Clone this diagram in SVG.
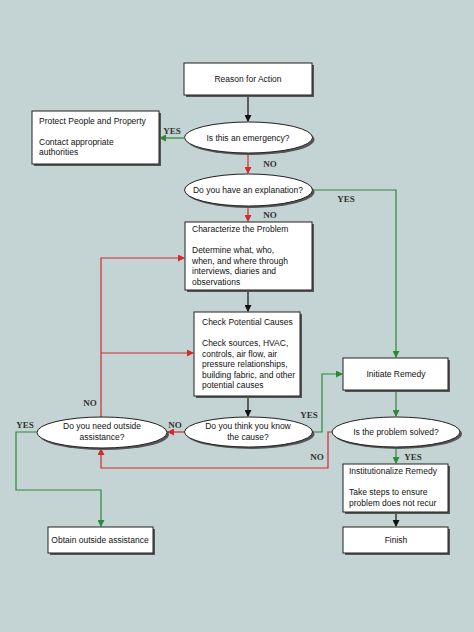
<svg xmlns="http://www.w3.org/2000/svg" width="474" height="632" viewBox="0 0 474 632">
<defs>
<marker id="ak" markerWidth="7" markerHeight="7" refX="6" refY="3.5" orient="auto" markerUnits="userSpaceOnUse"><path d="M0,0 L7,3.5 L0,7 Z" fill="#111"/></marker>
<marker id="ar" markerWidth="7" markerHeight="7" refX="6" refY="3.5" orient="auto" markerUnits="userSpaceOnUse"><path d="M0,0 L7,3.5 L0,7 Z" fill="#d42a2a"/></marker>
<marker id="ag" markerWidth="7" markerHeight="7" refX="6" refY="3.5" orient="auto" markerUnits="userSpaceOnUse"><path d="M0,0 L7,3.5 L0,7 Z" fill="#2a8a3a"/></marker>
</defs>
<style>
.box{fill:#fff;stroke:#222;stroke-width:1}
.sh{fill:#555}
.t{font-family:"Liberation Sans",Arial,sans-serif;font-size:8.5px;fill:#111}
.c{text-anchor:middle}
.lb{font-family:"Liberation Serif","Times New Roman",serif;font-size:9px;font-weight:bold;fill:#333;text-anchor:middle}
.k{fill:none;stroke:#111;stroke-width:1.2}
.r{fill:none;stroke:#d42a2a;stroke-width:1.2}
.g{fill:none;stroke:#2a8a3a;stroke-width:1.2}
</style>
<rect width="474" height="632" fill="#c4d3d3"/>
<g id="connectors">
<path class="k" d="M248,95 V121" marker-end="url(#ak)"/>
<path class="g" d="M184,138 H160" marker-end="url(#ag)"/>
<path class="r" d="M248,153 V173" marker-end="url(#ar)"/>
<path class="g" d="M313,190 H396 V357" marker-end="url(#ag)"/>
<path class="r" d="M248,206 V221" marker-end="url(#ar)"/>
<path class="k" d="M248,290 V311" marker-end="url(#ak)"/>
<path class="k" d="M248,396 V416" marker-end="url(#ak)"/>
<path class="r" d="M184,432 H168" marker-end="url(#ar)"/>
<path class="r" d="M101,417 V258 H184" marker-end="url(#ar)"/>
<path class="r" d="M101,353 H193" marker-end="url(#ar)"/>
<path class="g" d="M37,432 H16 V490 H101 V526" marker-end="url(#ag)"/>
<path class="g" d="M313,432 H322 V374 H342" marker-end="url(#ag)"/>
<path class="g" d="M396,390 V416" marker-end="url(#ag)"/>
<path class="r" d="M332,432 H328 V468 H101 V449" marker-end="url(#ar)"/>
<path class="g" d="M396,447 V463" marker-end="url(#ag)"/>
<path class="k" d="M396,512 V526" marker-end="url(#ak)"/>
</g>
<g id="labels">
<text class="lb" x="172" y="134">YES</text>
<text class="lb" x="270" y="167">NO</text>
<text class="lb" x="346" y="202">YES</text>
<text class="lb" x="270" y="218">NO</text>
<text class="lb" x="90" y="406">NO</text>
<text class="lb" x="25" y="428">YES</text>
<text class="lb" x="175" y="428">NO</text>
<text class="lb" x="309" y="418">YES</text>
<text class="lb" x="317" y="460">NO</text>
<text class="lb" x="413" y="460">YES</text>
</g>
<g id="reason">
<rect class="sh" x="186" y="65" width="128" height="32"/>
<rect class="box" x="184" y="63" width="128" height="32"/>
<text class="t c" x="248" y="82">Reason for Action</text>
</g>
<g id="protect">
<rect class="sh" x="34" y="113" width="127" height="53"/>
<rect class="box" x="32" y="111" width="127" height="53"/>
<text class="t" x="39" y="124">Protect People and Property</text>
<text class="t" x="39" y="145">Contact appropriate</text>
<text class="t" x="39" y="155">authorities</text>
</g>
<g id="emergency">
<ellipse class="sh" cx="250.5" cy="139.5" rx="64" ry="15.5"/>
<ellipse class="box" cx="248.5" cy="137.5" rx="64" ry="15.5"/>
<text class="t c" x="248" y="141">Is this an emergency?</text>
</g>
<g id="explanation">
<ellipse class="sh" cx="250.5" cy="192" rx="64" ry="16"/>
<ellipse class="box" cx="248.5" cy="190" rx="64" ry="16"/>
<text class="t c" x="248" y="193">Do you have an explanation?</text>
</g>
<g id="characterize">
<rect class="sh" x="187" y="224" width="127" height="68"/>
<rect class="box" x="185" y="222" width="127" height="68"/>
<text class="t" x="192" y="232">Characterize the Problem</text>
<text class="t" x="192" y="253">Determine what, who,</text>
<text class="t" x="192" y="263.5">when, and where through</text>
<text class="t" x="192" y="274">interviews, diaries and</text>
<text class="t" x="192" y="284.5">observations</text>
</g>
<g id="check">
<rect class="sh" x="196" y="314" width="106" height="84"/>
<rect class="box" x="194" y="312" width="106" height="84"/>
<text class="t" x="202" y="325">Check Potential Causes</text>
<text class="t" x="202" y="346">Check sources, HVAC,</text>
<text class="t" x="202" y="356.5">controls, air flow, air</text>
<text class="t" x="202" y="367">pressure relationships,</text>
<text class="t" x="202" y="377.5">building fabric, and other</text>
<text class="t" x="202" y="388">potential causes</text>
</g>
<g id="initiate">
<rect class="sh" x="345" y="360" width="105" height="32"/>
<rect class="box" x="343" y="358" width="105" height="32"/>
<text class="t c" x="396" y="377">Initiate Remedy</text>
</g>
<g id="think">
<ellipse class="sh" cx="250.5" cy="434" rx="64" ry="15"/>
<ellipse class="box" cx="248.5" cy="432" rx="64" ry="15"/>
<text class="t c" x="248" y="429">Do you think you know</text>
<text class="t c" x="248" y="440">the cause?</text>
</g>
<g id="outside">
<ellipse class="sh" cx="104" cy="434.5" rx="65" ry="15.5"/>
<ellipse class="box" cx="102" cy="432.5" rx="65" ry="15.5"/>
<text class="t c" x="102" y="429">Do you need outside</text>
<text class="t c" x="102" y="440">assistance?</text>
</g>
<g id="solved">
<ellipse class="sh" cx="398" cy="434" rx="64" ry="15"/>
<ellipse class="box" cx="396" cy="432" rx="64" ry="15"/>
<text class="t c" x="396" y="435">Is the problem solved?</text>
</g>
<g id="institutionalize">
<rect class="sh" x="345" y="466" width="105" height="48"/>
<rect class="box" x="343" y="464" width="105" height="48"/>
<text class="t" x="349" y="474">Institutionalize Remedy</text>
<text class="t" x="349" y="495">Take steps to ensure</text>
<text class="t" x="349" y="505.5">problem does not recur</text>
</g>
<g id="finish">
<rect class="sh" x="345" y="529" width="105" height="26"/>
<rect class="box" x="343" y="527" width="105" height="26"/>
<text class="t c" x="396" y="543">Finish</text>
</g>
<g id="obtain">
<rect class="sh" x="50" y="529" width="105" height="26"/>
<rect class="box" x="48" y="527" width="105" height="26"/>
<text class="t c" x="100" y="543">Obtain outside assistance</text>
</g>
</svg>
